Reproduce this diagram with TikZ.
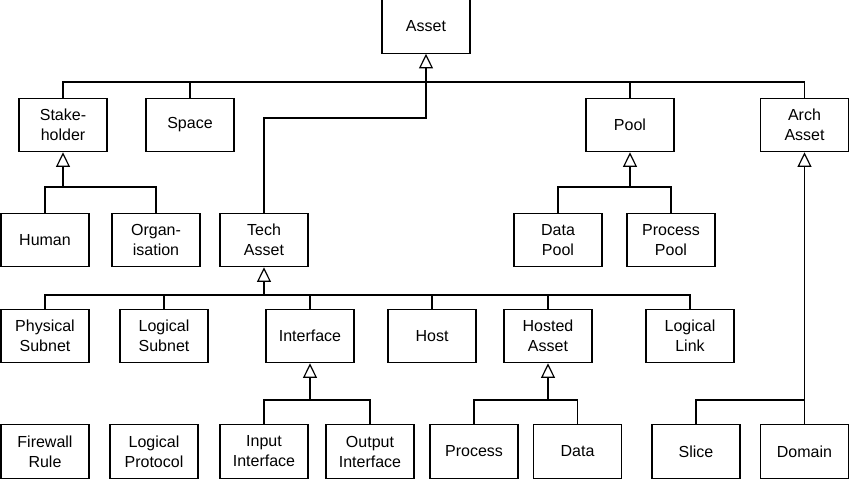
\documentclass[tikz,border=0pt]{standalone}
\usepackage{fontspec}
\setmainfont{Liberation Sans}
\usetikzlibrary{arrows.meta}
\tikzset{every picture/.style={line width=0.9pt}}
\tikzset{box/.style={draw,minimum width=66pt,minimum height=40pt,align=center,inner sep=1pt,font=\fontsize{12}{15}\selectfont},
  inh/.style={-{Triangle[open,length=11pt,width=10.5pt]}}}
\begin{document}
\begin{tikzpicture}[x=0.75pt,y=0.75pt,yscale=-1,xscale=1]
\useasboundingbox (0,0) rectangle (850,483);

% Boxes
\node[box] (asset) at (426,26.5) {Asset};
\node[box] (stake) at (63,125) {Stake-\\holder};
\node[box] (space) at (190,125) {Space};
\node[box] (pool) at (630,125) {Pool};
\node[box] (arch) at (804.5,125) {Arch\\Asset};
\node[box] (human) at (45,240) {Human};
\node[box] (organ) at (156,240) {Organ-\\isation};
\node[box] (tech) at (264,240) {Tech\\Asset};
\node[box] (dpool) at (558,240) {Data\\Pool};
\node[box] (ppool) at (671,240) {Process\\Pool};
\node[box] (phys) at (45,336) {Physical\\Subnet};
\node[box] (lsub) at (164,336) {Logical\\Subnet};
\node[box] (iface) at (310,336) {Interface};
\node[box] (host) at (432,336) {Host};
\node[box] (hosted) at (548,336) {Hosted\\Asset};
\node[box] (llink) at (690,336) {Logical\\Link};
\node[box] (fw) at (45,451.5) {Firewall\\Rule};
\node[box] (lprot) at (154,451.5) {Logical\\Protocol};
\node[box] (input) at (264,451.5) {Input\\Interface};
\node[box] (output) at (370,451.5) {Output\\Interface};
\node[box] (proc) at (474,451.5) {Process};
\node[box] (data) at (577.5,451.5) {Data};
\node[box] (slice) at (696,451.5) {Slice};
\node[box] (domain) at (804.5,451.5) {Domain};

% Asset hierarchy
\coordinate (busA) at (426,82);
\coordinate (techJ) at (426,118);
\draw[inh] (busA) -- (asset.south);
\draw (stake.north) |- (busA);
\draw (space.north) |- (busA);
\draw (pool.north) |- (busA);
\draw (arch.north) |- (busA);
\draw (tech.north) |- (techJ) -- (busA);

% Stakeholder
\coordinate (busS) at (63,187);
\draw[inh] (busS) -- (stake.south);
\draw (human.north) |- (busS);
\draw (organ.north) |- (busS);

% Pool
\coordinate (busP) at (630,187);
\draw[inh] (busP) -- (pool.south);
\draw (dpool.north) |- (busP);
\draw (ppool.north) |- (busP);

% Tech Asset
\coordinate (busT) at (264,295);
\draw[inh] (busT) -- (tech.south);
\foreach \n in {phys,lsub,iface,host,hosted,llink}
  \draw (\n.north) |- (busT);

% Interface
\coordinate (busI) at (310,400);
\draw[inh] (busI) -- (iface.south);
\draw (input.north) |- (busI);
\draw (output.north) |- (busI);

% Hosted Asset
\coordinate (busH) at (548,400);
\draw[inh] (busH) -- (hosted.south);
\draw (proc.north) |- (busH);
\draw (data.north) |- (busH);

% Arch Asset
\coordinate (busR) at (804.5,400);
\draw[inh] (domain.north) -- (arch.south);
\draw (slice.north) |- (busR);
\end{tikzpicture}
\end{document}
